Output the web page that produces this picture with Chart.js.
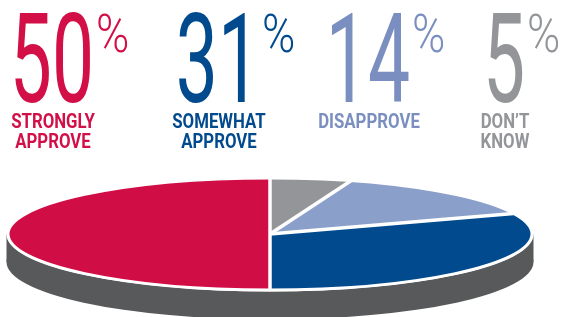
<!DOCTYPE html>
<html><head><meta charset="utf-8">
<script src="https://cdn.jsdelivr.net/npm/chart.js@4/dist/chart.umd.min.js"></script>
<style>
html,body{margin:0;padding:0;background:#fff;overflow:hidden;width:561px;height:317px;}
#wrap{position:relative;width:561px;height:317px;overflow:hidden;}
#c{position:absolute;left:0;top:0;}
.num,.pct,.lab{position:absolute;white-space:pre;font-family:Roboto,"Liberation Sans",sans-serif;}
.num{font-size:125px;line-height:125px;top:-3px;font-weight:400;transform-origin:50% 0;}
.pct{font-size:53px;line-height:53px;top:8px;font-weight:300;transform-origin:0 0;}
.lab{font-size:21px;line-height:20px;top:111px;font-weight:700;text-align:center;transform-origin:50% 0;}
</style></head>
<body>
<div id="wrap"><canvas id="c" width="561" height="540"></canvas></div>
<script>
// ---- data ----
const categories = ["STRONGLY\nAPPROVE", "SOMEWHAT\nAPPROVE", "DISAPPROVE", "DON\u2019T\nKNOW"];
const values = [50, 31, 14, 5];
const unit = "%";

// ---- styles ----
const sliceColors = ["#d10d45", "#014a8d", "#8a9fc9", "#939598"];
const textColors  = ["#d20f46", "#014a8d", "#7a8fc0", "#939598"];
const sideColor = "#58595b";
const blockCenters = [53, 219, 369, 505];
const NUM_SX = 0.6, PCT_SX = 0.85, LAB_SX = 0.8;
const FACE_CY = 234, TILT = 56/262, DEPTH = 28;

// ---- text ----
const wrap = document.getElementById('wrap');
const nums = [], pcts = [];
values.forEach((v, i) => {
  const n = document.createElement('div');
  n.className = 'num'; n.textContent = String(v); n.style.color = textColors[i];
  n.style.left = (blockCenters[i] - 1.5) + 'px';
  n.style.transform = 'translateX(-50%) scaleX(' + NUM_SX + ')';
  wrap.appendChild(n); nums.push(n);
  const p = document.createElement('div');
  p.className = 'pct'; p.textContent = unit; p.style.color = textColors[i];
  p.style.transform = 'scaleX(' + PCT_SX + ')';
  wrap.appendChild(p); pcts.push(p);
  const l = document.createElement('div');
  l.className = 'lab'; l.textContent = categories[i]; l.style.color = textColors[i];
  l.style.left = blockCenters[i] + 'px';
  l.style.transform = 'translateX(-50%) scaleX(' + LAB_SX + ')';
  wrap.appendChild(l);
});
nums.forEach((n, i) => {
  const r = n.getBoundingClientRect();
  pcts[i].style.left = (r.right + 2) + 'px';
});

// ---- 3D pie plugin ----
const pie3d = {
  id: 'pie3d',
  beforeDatasetsDraw(chart) {
    const a = chart.getDatasetMeta(0).data[0];
    const x = a.x, y = a.y, r = a.outerRadius, ry = r * TILT;
    const ctx = chart.ctx;
    ctx.save();
    ctx.fillStyle = sideColor;
    ctx.beginPath(); ctx.ellipse(x, FACE_CY + DEPTH, r + 1.5, ry + 1.5, 0, 0, Math.PI * 2); ctx.fill();
    ctx.fillRect(x - r - 1.5, FACE_CY, 2 * r + 3, DEPTH);
    ctx.fillStyle = '#fff';
    ctx.beginPath(); ctx.ellipse(x, FACE_CY, r + 1.5, ry + 1.5, 0, 0, Math.PI * 2); ctx.fill();
    ctx.restore();
    ctx.save();
    ctx.translate(0, FACE_CY); ctx.scale(1, TILT); ctx.translate(0, -y);
  },
  afterDatasetsDraw(chart) {
    const ctx = chart.ctx;
    ctx.restore();
    const arcs = chart.getDatasetMeta(0).data;
    const x = arcs[0].x, r = arcs[0].outerRadius, ry = r * TILT;
    ctx.save();
    ctx.strokeStyle = '#fff';
    ctx.lineWidth = 3.5;
    arcs.forEach(a => {
      const ang = a.startAngle;
      ctx.beginPath();
      ctx.moveTo(x, FACE_CY);
      ctx.lineTo(x + r * Math.cos(ang), FACE_CY + ry * Math.sin(ang));
      ctx.stroke();
    });
    ctx.lineWidth = 3;
    ctx.beginPath(); ctx.ellipse(x, FACE_CY, r, ry, 0, 0, Math.PI * 2); ctx.stroke();
    ctx.restore();
  }
};

const rev = a => a.slice().reverse();
new Chart(document.getElementById('c'), {
  type: 'pie',
  data: {
    labels: rev(categories.map(c => c.replace('\n', ' '))),
    datasets: [{ data: rev(values), backgroundColor: rev(sliceColors), borderWidth: 0 }]
  },
  options: {
    responsive: false, animation: false, events: [], devicePixelRatio: 1,
    layout: { padding: { left: 8, right: 29, top: 8, bottom: 8 } },
    plugins: { legend: { display: false }, tooltip: { enabled: false } }
  },
  plugins: [pie3d]
});
</script>
</body></html>
